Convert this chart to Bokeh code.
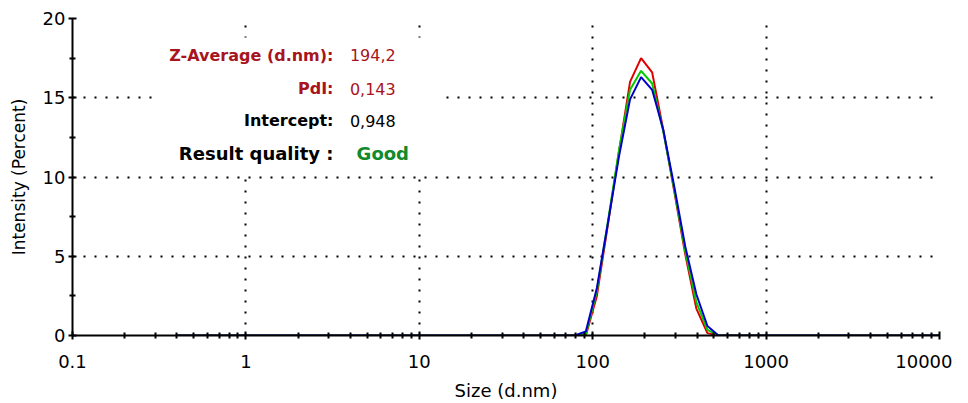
from bokeh.plotting import figure
from bokeh.models import Range1d, FixedTicker, CustomJSTickFormatter, Label, BoxAnnotation
from bokeh.embed import file_html
from bokeh.resources import INLINE

# ---- data ----
sizes = [0.4, 68.06, 78.82, 91.28, 105.7, 122.4, 141.8, 164.2, 190.1, 220.2,
         255.0, 295.3, 342.0, 396.1, 458.7, 531.2, 615.1, 10000]
red_vals = [0, 0, 0, 0.0, 2.5, 7.0, 11.6, 16.0, 17.5, 16.6,
            13.0, 9.1, 5.1, 1.7, 0.15, 0, 0, 0]
green_vals = [0, 0, 0, 0.1, 2.8, 7.2, 11.7, 15.5, 16.7, 15.9,
              12.9, 9.2, 5.3, 2.1, 0.35, 0, 0, 0]
blue_vals = [0, 0, 0, 0.25, 3.0, 7.1, 11.3, 14.9, 16.3, 15.5,
             13.0, 9.4, 5.6, 2.6, 0.6, 0, 0, 0]

x_ticks = [0.1, 1, 10, 100, 1000, 10000]
y_ticks = [0, 5, 10, 15, 20]
y_minor = [2.5, 7.5, 12.5, 17.5]

info_labels = ["Z-Average (d.nm):", "PdI:", "Intercept:", "Result quality :"]
info_values = ["194,2", "0,143", "0,948", "Good"]
label_colors = ["#A8141E", "#A8141E", "#000000", "#000000"]
value_colors = ["#A8141E", "#A8141E", "#000000", "#108A2A"]

FONT = "DejaVu Sans"

p = figure(width=952, height=399, x_axis_type="log",
           x_range=Range1d(0.1, 10000), y_range=Range1d(0, 20),
           output_backend="svg", toolbar_location=None,
           min_border_left=72, min_border_right=13,
           min_border_top=18, min_border_bottom=64)
p.frame_width = 867
p.frame_height = 317
p.outline_line_color = None
p.background_fill_color = "white"
p.border_fill_color = "white"

x_minor = [m * 10.0 ** e for e in range(-1, 4) for m in range(2, 10)]
p.xaxis.ticker = FixedTicker(ticks=x_ticks, minor_ticks=x_minor)
p.xaxis.formatter = CustomJSTickFormatter(code="return String(tick);")
p.yaxis.ticker = FixedTicker(ticks=y_ticks, minor_ticks=y_minor)

for ax in (p.xaxis[0], p.yaxis[0]):
    ax.axis_line_color = "black"
    ax.axis_line_width = 2
    ax.major_tick_line_color = "black"
    ax.major_tick_line_width = 2
    ax.minor_tick_line_color = "black"
    ax.minor_tick_line_width = 2
    ax.major_tick_in = 4
    ax.major_tick_out = 4
    ax.minor_tick_in = 3
    ax.minor_tick_out = 3
    ax.major_label_text_font = FONT
    ax.major_label_text_font_size = "18px"
    ax.major_label_text_color = "black"
    ax.axis_label_text_font = FONT
    ax.axis_label_text_font_style = "normal"
    ax.axis_label_text_color = "black"

p.xaxis.axis_label = "Size (d.nm)"
p.xaxis.axis_label_text_font_size = "18px"
p.xaxis.major_label_standoff = 15
p.xaxis.axis_label_standoff = 9
p.yaxis.axis_label = "Intensity (Percent)"
p.yaxis.axis_label_text_font_size = "17px"
p.yaxis.major_label_standoff = 3
p.yaxis.axis_label_standoff = 11

for g in (p.xgrid[0], p.ygrid[0]):
    g.grid_line_color = "black"
    g.grid_line_width = 2
    g.grid_line_dash = "2 9"
p.xgrid.ticker = FixedTicker(ticks=x_ticks)
p.ygrid.ticker = FixedTicker(ticks=y_ticks)

p.line(sizes, red_vals, line_color="#E00000", line_width=2)
p.line(sizes, green_vals, line_color="#00CC00", line_width=2)
p.line(sizes, blue_vals, line_color="#0000C8", line_width=2)

# white panel behind the result text
p.add_layout(BoxAnnotation(left=0.297, right=13.1, bottom=10.3, top=18.8,
                           fill_color="white", fill_alpha=1.0, line_color=None))

rows_y = [17.67, 15.58, 13.56, 11.48]
row_sizes = ["16px", "16px", "16px", "18px"]
for lab, val, lc, vc, yy, fs in zip(info_labels, info_values, label_colors,
                                    value_colors, rows_y, row_sizes):
    p.add_layout(Label(x=3.2, y=yy, text=lab, text_align="right", text_baseline="middle",
                       text_font=FONT, text_font_style="bold", text_font_size=fs,
                       text_color=lc))
    is_good = (val == "Good")
    p.add_layout(Label(x=4.35 if is_good else 3.98, y=yy, text=val, text_align="left",
                       text_baseline="middle", text_font=FONT,
                       text_font_style="bold" if is_good else "normal",
                       text_font_size=fs, text_color=vc))

open("out.html", "w").write(file_html(p, INLINE))
